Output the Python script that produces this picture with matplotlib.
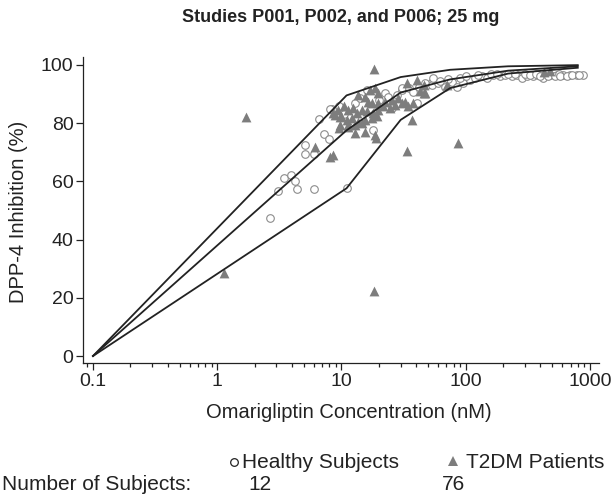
import matplotlib
matplotlib.use('Agg')
import matplotlib.pyplot as plt
from matplotlib.lines import Line2D

plt.rcParams['font.family'] = ['Liberation Sans', 'DejaVu Sans']

# model curves: concentration nodes (nM) and % inhibition
curve_conc = [0.1, 11, 30, 75, 220, 800]
upper_inhib = [0, 89.5, 95.8, 98.3, 99.5, 99.9]
median_inhib = [0, 77.5, 90.5, 95.0, 98.0, 99.5]
lower_inhib = [0, 57.6, 81.1, 92.0, 97.0, 99.0]

# healthy subjects (P001, P002)
healthy_conc = [2.66, 3.10, 3.45, 3.91, 4.23, 4.41, 6.05, 5.09, 5.09, 6.05,
                6.64, 7.28, 8.0, 8.35, 11.0, 8.1, 17.9,
                12.9, 18.7, 22.4, 25.4, 23.9, 27.9, 30.5, 14, 16, 20,
                31, 35, 38, 40.4, 42, 48.8, 53.3, 10.5, 9.5,
                47.1, 53.3, 60.4, 68.3, 77.3, 84.8, 95.9, 109, 119, 135,
                148, 167, 189, 208, 235, 258, 283, 310, 351, 385,
                423, 479, 541, 612, 693, 783, 887,
                55, 62, 72, 90, 100, 125, 160, 180, 220, 250, 300, 330,
                370, 400, 440, 460, 520, 560, 580, 650, 720, 820]
healthy_inhib = [47.5, 56.8, 61.1, 62.2, 60.1, 57.5, 57.3, 72.5, 69.4, 69.4,
                 81.3, 76.2, 74.5, 84.8, 57.6, 85.0, 77.7,
                 86.8, 83.4, 90.3, 85.1, 89.1, 89.7, 91.4, 88.5, 91.5, 88.0,
                 92.0, 92.0, 90.5, 86.8, 92.5, 93.2, 94.0, 83.0, 86.0,
                 93.7, 93.1, 93.7, 92.5, 94.2, 92.5, 93.7, 94.8, 95.4, 96.0,
                 95.4, 96.5, 96.0, 96.5, 96.0, 96.5, 95.4, 96.0, 96.0, 96.5,
                 95.4, 96.5, 96.5, 96.5, 96.5, 96.5, 96.5,
                 95.5, 94.5, 95.0, 95.5, 96.0, 96.5, 97.0, 96.8, 97.0, 96.8, 96.8, 96.5,
                 96.8, 96.2, 96.8, 96.0, 96.0, 96.8, 96.2, 96.0, 96.6, 96.5]

# T2DM patients (P006)
t2dm_conc = [33.6, 40.4, 46.6, 43.0, 47.1, 17.0, 18.7, 19.8, 13.7, 15.5,
             16.5, 17.5, 19.8, 22.4, 25.4, 28.7, 30.5, 32.5, 34.6, 38.0,
             9.44, 10.4, 11.4, 12.5, 13.3, 14.6, 16.0, 18.1, 19.8, 21.8,
             24.6, 27.0, 8.89, 10.0, 11.0, 12.1, 13.7, 15.5, 17.5, 19.2,
             9.75, 11.4, 12.9, 14.6, 12.9, 15.5, 18.7, 36.8,
             1.69, 1.135, 6.1, 8.1, 8.6, 18.4, 18.4, 87, 34, 19.1,
             8.6, 9.7, 9.6, 11.4, 45.9, 70.5, 430, 480]
t2dm_inhib = [93.7, 94.9, 93.1, 90.9, 90.3, 91.4, 92.0, 90.3, 89.7, 89.1,
              87.4, 86.8, 86.8, 87.4, 88.0, 88.6, 86.8, 87.4, 85.7, 86.8,
              84.6, 85.7, 84.6, 85.1, 83.4, 84.6, 84.0, 83.4, 84.6, 85.7,
              85.1, 86.3, 82.8, 82.3, 81.1, 81.7, 80.5, 81.1, 81.7, 82.3,
              79.4, 78.8, 79.4, 80.0, 76.5, 77.1, 76.0, 81.1,
              82.2, 28.6, 71.8, 68.5, 69.1, 98.4, 22.4, 73.3, 70.4, 74.8,
              83.4, 82.2, 78.2, 79.4, 90.3, 93.1, 97.5, 98.0]

x_ticks = [0.1, 1, 10, 100, 1000]
x_ticklabels = ['0.1', '1', '10', '100', '1000']
y_ticks = [0, 20, 40, 60, 80, 100]

W, H = 616, 495
txt = '#222222'

fig = plt.figure(figsize=(W / 100, H / 100), dpi=100)
ax = fig.add_axes([0.1352, 0.2661, 0.8372, 0.6188])

ax.scatter(healthy_conc, healthy_inhib, s=30, marker='o', facecolor='white',
           edgecolor='#8c8c8c', linewidth=0.8, zorder=2)
ax.scatter(t2dm_conc, t2dm_inhib, s=50, marker='^', color='#7d7d7d',
           linewidth=0, zorder=3)

for vals in (upper_inhib, median_inhib, lower_inhib):
    ax.plot(curve_conc, vals, color=txt, lw=1.3, zorder=4)

ax.set_xscale('log')
ax.set_xlim(0.0835, 1186)
ax.set_ylim(-2.5, 102.7)
ax.set_xticks(x_ticks)
ax.set_xticklabels(x_ticklabels)
ax.set_yticks(y_ticks)

for side in ('top', 'right'):
    ax.spines[side].set_visible(False)
for side in ('left', 'bottom'):
    ax.spines[side].set_color(txt)
    ax.spines[side].set_linewidth(0.9)

ax.tick_params(axis='both', which='major', length=5, width=0.9,
               color=txt, labelsize=14, labelcolor=txt, pad=2)
ax.tick_params(axis='x', which='minor', length=3, width=0.9, color=txt)

def fy(py):
    # pixel row from the top -> figure fraction
    return 1 - py / H

fig.text(349 / W, fy(413), 'Omarigliptin Concentration (nM)', ha='center', va='center',
         fontsize=14.5, color=txt)
fig.text(19 / W, fy(212), 'DPP-4 Inhibition (%)', ha='center', va='center',
         rotation=90, fontsize=14.5, color=txt)

fig.text(341 / W, fy(18), 'Studies P001, P002, and P006; 25 mg', ha='center', va='center',
         fontsize=13, fontweight='bold', color=txt)

# legend and subject counts underneath
fig.add_artist(Line2D([234 / W], [fy(462)], marker='o', markersize=5.5,
                      markerfacecolor='white', markeredgecolor=txt,
                      markeredgewidth=0.9, transform=fig.transFigure))
fig.text(242 / W, fy(462), 'Healthy Subjects', ha='left', va='center',
         fontsize=15, color=txt)
fig.add_artist(Line2D([453 / W], [fy(461)], marker='^', markersize=7.5,
                      color='#7d7d7d', markeredgewidth=0, transform=fig.transFigure))
fig.text(466 / W, fy(462), 'T2DM Patients', ha='left', va='center',
         fontsize=15, color=txt)
fig.text(2 / W, fy(485), 'Number of Subjects:', ha='left', va='center',
         fontsize=15, color=txt)
fig.text(248 / W, fy(485), '12', ha='left', va='center', fontsize=15, color=txt)
fig.text(442 / W, fy(485), '76', ha='left', va='center', fontsize=15, color=txt)

fig.savefig('out.png', dpi=100)
